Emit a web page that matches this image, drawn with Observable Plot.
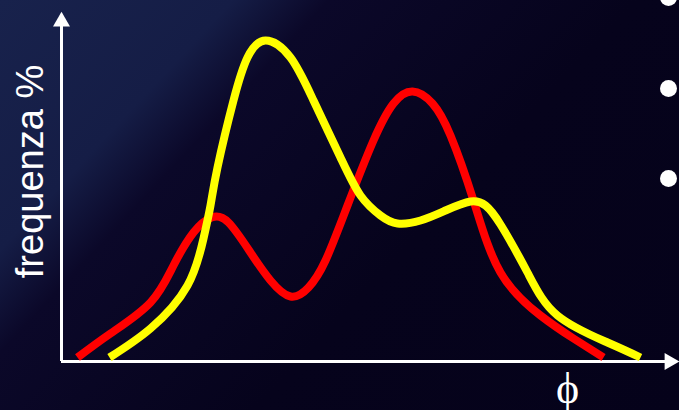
<!DOCTYPE html>
<html><head><meta charset="utf-8">
<script src="https://cdn.jsdelivr.net/npm/d3@7"></script>
<script src="https://cdn.jsdelivr.net/npm/@observablehq/plot@0.6"></script>
<style>html,body{margin:0;padding:0;background:#06031c;overflow:hidden}</style>
</head><body><div id="chart"></div>
<script>
// Red distribution (phi, frequency %)
const redX = [16,49,89,112,132,150,167,189,209,229,247,264,286,312,332,351,371,389,412,439,479,512,542];
const redY = [4,28,59,96,129,144,139,109,81,65,74,101,156,221,258,270,258,226,161,89,46,23,4];
// Yellow distribution
const yellowX = [48,89,126,142,149,156,172,186,204,229,252,279,299,319,336,359,384,409,424,439,466,496,546,579];
const yellowY = [4,33,76,123,156,194,261,304,321,304,261,204,166,146,138,141,151,160,156,137,89,46,19,4];
// Slide bullets on the right
const bulletY = [364,273,183];
const yLabel = "frequenza %";
const xLabel = "ϕ";

const red = redX.map((x,i)=>({x, y: redY[i]}));
const yellow = yellowX.map((x,i)=>({x, y: yellowY[i]}));

const chart = Plot.plot({
  width: 679, height: 410,
  marginLeft: 61, marginRight: 0, marginTop: 12, marginBottom: 49,
  x: {domain: [0, 618], axis: null},
  y: {domain: [0, 349], axis: null},
  style: "background: linear-gradient(133deg, #18224c 0%, #151d46 22%, #0b0829 31%, #06031c 60%, #05021a 100%); overflow: visible;",
  marks: [
    Plot.ruleY([0], {x1: 0, x2: 610, stroke: "white", strokeWidth: 3}),
    Plot.ruleX([0], {y1: 0, y2: 335, stroke: "white", strokeWidth: 3}),
    Plot.dot([0], {x: () => 608, y: () => 0, symbol: "triangle", rotate: 90, r: 6.3, fill: "white", stroke: null}),
    Plot.dot([0], {x: () => 0, y: () => 340, symbol: "triangle", r: 6.3, fill: "white", stroke: null}),
    Plot.line(red, {x: "x", y: "y", curve: "natural", stroke: "#ff0000", strokeWidth: 8, strokeLinecap: "butt"}),
    Plot.line(yellow, {x: "x", y: "y", curve: "natural", stroke: "#ffff00", strokeWidth: 8, strokeLinecap: "butt"}),
    Plot.dot(bulletY, {x: () => 607, y: d => d, r: 8.5, fill: "white", stroke: null}),
    Plot.text([yLabel], {x: () => -31, y: () => 190, text: d => d, rotate: -90, fontSize: 38, fill: "white", fontFamily: "Liberation Sans"}),
    Plot.text([xLabel], {x: () => 506, y: () => -27, text: d => d, fontSize: 44, fill: "white", fontFamily: "Liberation Serif, DejaVu Serif, serif"})
  ]
});
document.getElementById("chart").appendChild(chart);
</script>
</body></html>
